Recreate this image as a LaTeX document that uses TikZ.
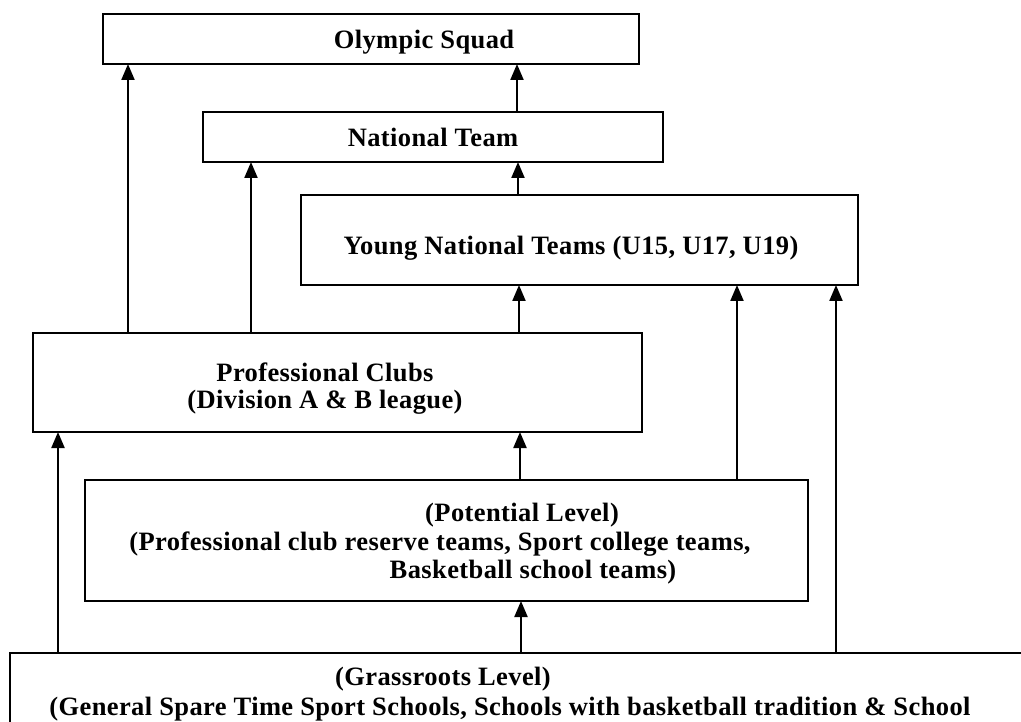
\documentclass[tikz,border=0pt]{standalone}
\usepackage{fontspec}
\setmainfont{Liberation Serif}[LetterSpace=1.5]
\usetikzlibrary{arrows.meta}
\begin{document}
\begin{tikzpicture}[x=1pt,y=-1pt,
  font=\bfseries\fontsize{26.5}{28}\selectfont,
  level/.style={draw, line width=1.8pt, rectangle, inner sep=0pt, outer sep=0pt, align=center},
  caption/.style={inner sep=0pt, align=center},
  up/.style={line width=2.2pt, -{Triangle[length=16pt,width=13pt]}}]
\useasboundingbox (0,0) rectangle (1021,722);
\fill[white] (0,0) rectangle (1021,722);
\begin{scope}
\clip (0,0) rectangle (1021,722);

% levels of the pathway, top to bottom
\node[level, minimum width=536pt, minimum height=50pt] (os) at (371,39) {};
\node[caption] (ostext) at (424,42) {Olympic Squad};
\node[level, minimum width=460pt, minimum height=50pt] (nt) at (433,137) {National Team};
\node[level, minimum width=557pt, minimum height=90pt] (ynt) at (579.5,240) {};
\node[caption] (ynttext) at (571,248) {Young National Teams (U15, U17, U19)};
\node[level, minimum width=609pt, minimum height=99pt] (pc) at (337.5,382.5) {};
\node[caption, font=\bfseries\fontsize{26.5}{27}\selectfont] (pctext) at (325,389) {Professional Clubs\\(Division A \& B league)};
\node[level, minimum width=723pt, minimum height=121pt] (pot) at (446.5,540.5) {};
\node[caption, font=\bfseries\fontsize{26.5}{28.5}\selectfont] (pottext) at (440,544) {\hspace*{164pt}(Potential Level)\\(Professional club reserve teams, Sport college teams,\\\hspace*{186pt}Basketball school teams)};
\node[level, minimum width=1050pt, minimum height=127pt] (gr) at (535,716.5) {};
\node[caption, font=\bfseries\fontsize{26.5}{30}\selectfont] (grtext) at (510,694) {(Grassroots Level)\hspace*{134pt}\\(General Spare Time Sport Schools, Schools with basketball tradition \& School};
\end{scope}

% columns of the upward links
\coordinate (xa) at (128,0);
\coordinate (xb) at (251,0);
\coordinate (xc) at (517,0);
\coordinate (xd) at (518,0);
\coordinate (xe) at (519,0);
\coordinate (xf) at (737,0);
\coordinate (xg) at (836,0);
\coordinate (xh) at (520,0);
\coordinate (xi) at (58,0);
\coordinate (xj) at (521,0);

\draw[up] (pc.north -| xa) -- (os.south -| xa);
\draw[up] (nt.north -| xc) -- (os.south -| xc);
\draw[up] (pc.north -| xb) -- (nt.south -| xb);
\draw[up] (ynt.north -| xd) -- (nt.south -| xd);
\draw[up] (pc.north -| xe) -- (ynt.south -| xe);
\draw[up] (pot.north -| xf) -- (ynt.south -| xf);
\draw[up] (gr.north -| xg) -- (ynt.south -| xg);
\draw[up] (pot.north -| xh) -- (pc.south -| xh);
\draw[up] (gr.north -| xi) -- (pc.south -| xi);
\draw[up] (gr.north -| xj) -- (pot.south -| xj);
\end{tikzpicture}
\end{document}
